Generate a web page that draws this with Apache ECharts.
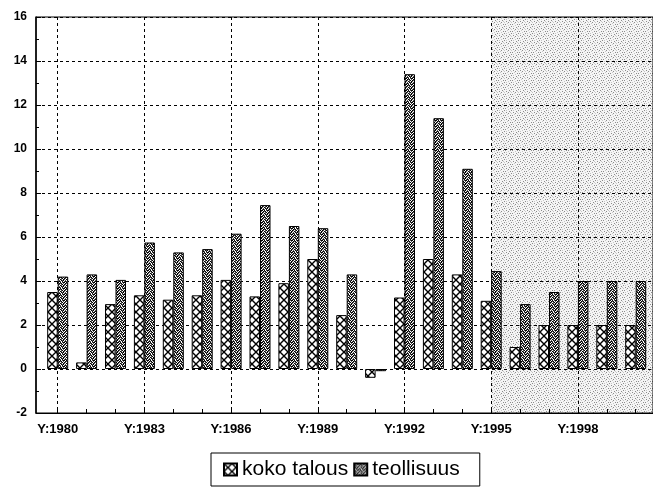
<!DOCTYPE html>
<html>
<head>
<meta charset="utf-8">
<script src="https://cdn.jsdelivr.net/npm/echarts@6/dist/echarts.min.js"></script>
<style>html,body{margin:0;padding:0;background:#fff;}#c{width:653px;height:496px;}</style>
</head>
<body>
<div id="c"></div>
<script>
// ---- data ----
var years = [1980,1981,1982,1983,1984,1985,1986,1987,1988,1989,1990,1991,1992,1993,1994,1995,1996,1997,1998,1999,2000];
var kokoTalous = [3.5,0.3,2.95,3.35,3.15,3.35,4.05,3.3,3.9,5.0,2.45,-0.4,3.25,5.0,4.3,3.1,1.0,2.0,2.0,2.0,2.0];
var teollisuus = [4.2,4.3,4.05,5.75,5.3,5.45,6.15,7.45,6.5,6.4,4.3,-0.1,13.4,11.4,9.1,4.45,2.95,3.5,4.0,4.0,4.0];
var seriesNames = ['koko talous','teollisuus'];
var forecastStart = 1995;

// ---- patterns ----
function makeCanvas(w,h){var c=document.createElement('canvas');c.width=w;c.height=h;return c;}
function hatch(){
  var c=makeCanvas(8,8),g=c.getContext('2d');
  g.fillStyle='#fff';g.fillRect(0,0,8,8);
  g.strokeStyle='#000';g.lineWidth=1.4;
  g.beginPath();g.moveTo(-1,-1);g.lineTo(9,9);g.moveTo(9,-1);g.lineTo(-1,9);g.stroke();
  return c;
}
function pixmap(map,colors){
  var h=map.length,w=map[0].length,c=makeCanvas(w,h),g=c.getContext('2d');
  for(var y=0;y<h;y++)for(var x=0;x<w;x++){var k=map[y][x];g.fillStyle=colors[k];g.fillRect(x,y,1,1);}
  return c;
}
var stipple = pixmap([
  '102110',
  '210201',
  '021012',
  '120120',
  '012102',
  '201021'
],{'0':'#ffffff','1':'#000000','2':'#555555'});
var shade = pixmap([
  '0010002',
  '2000100',
  '0002000',
  '0100001',
  '0000200',
  '1020000',
  '0000010'
],{'0':'rgba(0,0,0,0.04)','1':'rgba(0,0,0,0.45)','2':'rgba(0,0,0,0.22)'});

var axisFont = {color:'#000',fontFamily:'Arial, Liberation Sans, sans-serif',fontWeight:'bold'};
var dashed = {show:true,lineStyle:{color:'#000',width:1,type:[3,3]}};
var grids = {top:17,bottom:83};

var option = {
  animation:false,
  backgroundColor:'#fff',
  grid:[
    {left:36,right:0,top:grids.top,bottom:grids.bottom,show:true,borderColor:'#000',borderWidth:1},
    {left:57.7,right:17.3,top:grids.top,bottom:grids.bottom}
  ],
  xAxis:[
    {type:'value',gridIndex:0,min:-0.75,max:20.6,
     axisLine:{show:true,onZero:false,lineStyle:{color:'#000',width:1}},
     axisTick:{show:false},axisLabel:{show:false},splitLine:{show:false}},
    {type:'category',gridIndex:1,data:years,boundaryGap:false,
     axisLine:{show:false,onZero:false},
     axisTick:{show:true,inside:true,interval:0,length:4,lineStyle:{color:'#000'}},
     axisLabel:Object.assign({interval:2,fontSize:13,margin:10,formatter:function(v){return 'Y:'+v;}},axisFont),
     splitLine:Object.assign({interval:2},dashed)}
  ],
  yAxis:[
    {type:'value',gridIndex:0,min:-2,max:16,interval:2,
     axisLine:{show:true,onZero:false,lineStyle:{color:'#000',width:1.5}},
     axisTick:{show:true,inside:true,length:5,lineStyle:{color:'#000'}},
     minorTick:{show:true,splitNumber:2,length:3,lineStyle:{color:'#000'}},
     axisLabel:Object.assign({fontSize:12,margin:9},axisFont),
     splitLine:dashed},
    {type:'value',gridIndex:1,min:-2,max:16,interval:2,show:false}
  ],
  legend:{
    left:211,top:453,padding:[6,20,6,12],
    borderColor:'#000',borderWidth:1,
    itemWidth:13,itemHeight:12,itemGap:5,icon:'rect',
    textStyle:{fontSize:21,color:'#000',fontFamily:'Arial, Liberation Sans, sans-serif'},
    data:seriesNames
  },
  series:[
    {type:'line',xAxisIndex:0,yAxisIndex:0,data:[],silent:true,
     markArea:{silent:true,itemStyle:{color:{image:shade,repeat:'repeat'}},
       data:[[{xAxis:years.indexOf(forecastStart)},{xAxis:20.6}]]}},
    {name:seriesNames[0],type:'bar',xAxisIndex:1,yAxisIndex:1,data:kokoTalous,clip:false,
     barWidth:10.5,barGap:'0%',
     itemStyle:{color:{image:hatch(),repeat:'repeat'},borderColor:'#000',borderWidth:1}},
    {name:seriesNames[1],type:'bar',xAxisIndex:1,yAxisIndex:1,data:teollisuus,clip:false,
     barWidth:10.5,barGap:'0%',
     itemStyle:{color:{image:stipple,repeat:'repeat'},borderColor:'#000',borderWidth:1}}
  ]
};
var chart = echarts.init(document.getElementById('c'),null,{renderer:'canvas'});
chart.setOption(option);
</script>
</body>
</html>
